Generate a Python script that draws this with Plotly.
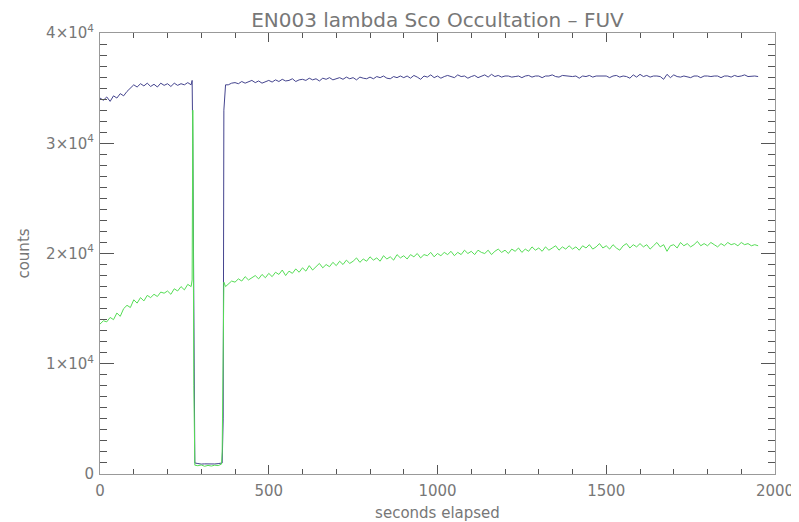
import plotly.graph_objects as go

# ---- sample times (seconds elapsed), in segments ----
t_pre = list(range(0, 271, 10))
t_drop = [273, 275, 278, 281]
t_floor = list(range(290, 361, 10))
t_rise = [362, 365, 367, 372]
t_post = list(range(380, 1951, 10))

# ---- blue series (upper curve) ----
blue_pre = [34100, 33900, 34200, 33800, 34300, 34100, 34500, 34300, 34700, 35000,
            35300, 35100, 35400, 35200, 35450, 35150, 35350, 35100, 35450, 35250,
            35400, 35150, 35450, 35250, 35400, 35300, 35500, 35300]
blue_drop = [35700, 30000, 12000, 1000]
blue_floor = [950, 900, 920, 900, 930, 910, 940, 960]
blue_rise = [1000, 5000, 33000, 35300]
blue_post = [35300, 35450,
             35500, 35400, 35600, 35450, 35550, 35700, 35500, 35650, 35450, 35600,
             35700, 35550, 35750, 35600, 35800, 35650, 35700, 35850, 35600, 35750,
             35800, 35700, 35900, 35750, 35850, 35650, 35900, 35800, 35950, 35750,
             35850, 35950, 35800, 36000, 35850, 35950, 35750, 36000, 35900, 35850,
             36000, 35850, 36050, 35950, 36100, 35900, 35850, 36050, 35950, 36100,
             35950, 36100, 35900, 36150, 36000, 35800, 36100, 36000, 36200, 35950,
             36100, 35900, 36050, 36150, 36050, 35950, 36200, 36050, 36100, 35900,
             36050, 36150, 35950, 36100, 36200, 36000, 36250, 36050, 36150, 36000,
             36100, 36100, 36000, 36050, 36100, 35950, 36100, 36150, 36000, 36100,
             36100, 35950, 36100, 36100, 36200, 36050, 36000, 36150, 36100, 36100,
             36050, 36100, 35900, 36100, 36050, 36150, 36000, 36100, 36100, 36050,
             36100, 35950, 36100, 36150, 36000, 36100, 36050, 35900, 36200, 36000,
             36250, 36050, 36150, 36000, 36100, 36100, 36050, 35800, 36250, 35950,
             36200, 36050, 36000, 36100, 36050, 35950, 36100, 36100, 35950, 36100,
             36100, 36050, 36100, 36100, 35950, 36100, 36100, 36000, 36150, 36050,
             36100, 36200, 36050, 36100, 36100, 36050]

# ---- green series (lower curve) ----
green_pre = [13600, 13900, 13800, 14200, 14000, 14600, 14300, 15000, 15300, 15100,
             15800, 15500, 16000, 15700, 16200, 16000, 16300, 16100, 16500, 16400,
             16600, 16300, 16800, 16600, 17000, 16700, 17200, 17000]
green_drop = [17600, 33000, 8000, 800]
green_floor = [750, 820, 700, 780, 720, 800, 760, 900]
green_rise = [2000, 16900, 17400, 17000]
green_post = [17200, 17500,
              17400, 17700, 17500, 17900, 17600, 17800, 18000, 17700, 18100, 17800,
              18200, 17900, 18300, 18100, 18500, 18000, 18400, 18200, 18600, 18300,
              18700, 18400, 18900, 18500, 18800, 19100, 18700, 19000, 18800, 19200,
              18900, 19300, 19000, 19400, 19100, 19300, 19600, 19200, 19500, 19300,
              19700, 19400, 19600, 19300, 19800, 19500, 19700, 19400, 19900, 19600,
              19800, 19500, 19900, 19700, 20000, 19600, 19900, 19800, 20100, 19700,
              20000, 19800, 20100, 19900, 20200, 19800, 20100, 19900, 20300, 20000,
              20200, 19900, 20300, 20100, 20000, 20300, 19900, 20200, 20400, 20100,
              20300, 20000, 20400, 20200, 20500, 20100, 20400, 20200, 20600, 20300,
              20500, 20200, 20600, 20300, 20500, 20700, 20300, 20600, 20400, 20700,
              20400, 20600, 20300, 20700, 20500, 20800, 20400, 20600, 20900, 20500,
              20700, 20400, 20800, 20500, 20300, 20700, 20900, 20500, 20800, 20600,
              20900, 20600, 20800, 20400, 20700, 21000, 20600, 20800, 20200, 20700,
              20800, 20500, 21000, 20700, 20900, 20600, 20800, 21100, 20700, 20900,
              20700, 21000, 20800, 20600, 20900, 20700, 21000, 20800, 20900, 20700,
              21000, 20800, 20900, 20700, 20800, 20700]

seconds = t_pre + t_drop + t_floor + t_rise + t_post
blue = blue_pre + blue_drop + blue_floor + blue_rise + blue_post
green = green_pre + green_drop + green_floor + green_rise + green_post

y_tickvals = [0, 10000, 20000, 30000, 40000]
y_ticktext = ["0", "1×10<sup>4</sup>", "2×10<sup>4</sup>", "3×10<sup>4</sup>", "4×10<sup>4</sup>"]
x_tickvals = [0, 500, 1000, 1500, 2000]
x_ticktext = ["0", "500", "1000", "1500", "2000"]

FONT = "DejaVu Sans"
TXT = "#777777"
AX = "#999999"
TK = "#555555"

fig = go.Figure()
fig.add_trace(go.Scatter(x=seconds, y=blue, mode="lines",
                         line=dict(color="#44448e", width=1), showlegend=False))
fig.add_trace(go.Scatter(x=seconds, y=green, mode="lines",
                         line=dict(color="#55dd55", width=1), showlegend=False))

# the page body adds an 8px offset, so the figure is 8px smaller on each side
fig.update_layout(
    width=791, height=514,
    margin=dict(l=92, r=24, t=25, b=48),
    paper_bgcolor="white", plot_bgcolor="white",
    font=dict(family=FONT, color=TXT, size=15),
    title=dict(text="EN003 lambda Sco Occultation – FUV", xref="paper", x=0.5,
               xanchor="center", y=0.977, yanchor="middle",
               font=dict(family=FONT, size=20, color=TXT)),
)
fig.update_xaxes(
    range=[0, 2000], tickvals=x_tickvals, ticktext=x_ticktext, automargin=False,
    showgrid=False, zeroline=False, showline=True, linecolor=AX, linewidth=1,
    mirror="ticks", ticks="inside", ticklen=9, tickcolor=TK, tickwidth=1,
    minor=dict(ticks="inside", dtick=100, ticklen=5, tickcolor=TK, showgrid=False),
    title=dict(text="seconds elapsed", standoff=10, font=dict(size=15, color=TXT)),
    tickfont=dict(size=15, color=TXT), ticklabelstandoff=3,
)
fig.update_yaxes(
    range=[0, 40000], tickvals=y_tickvals, ticktext=y_ticktext, automargin=False,
    showgrid=False, zeroline=False, showline=True, linecolor=AX, linewidth=1,
    mirror="ticks", ticks="inside", ticklen=14, tickcolor=TK, tickwidth=1,
    minor=dict(ticks="inside", dtick=1000, ticklen=7, tickcolor=TK, showgrid=False),
    title=dict(text="counts", standoff=12, font=dict(size=15, color=TXT)),
    tickfont=dict(size=15, color=TXT), ticklabelstandoff=2,
)

fig.write_html("out.html")
